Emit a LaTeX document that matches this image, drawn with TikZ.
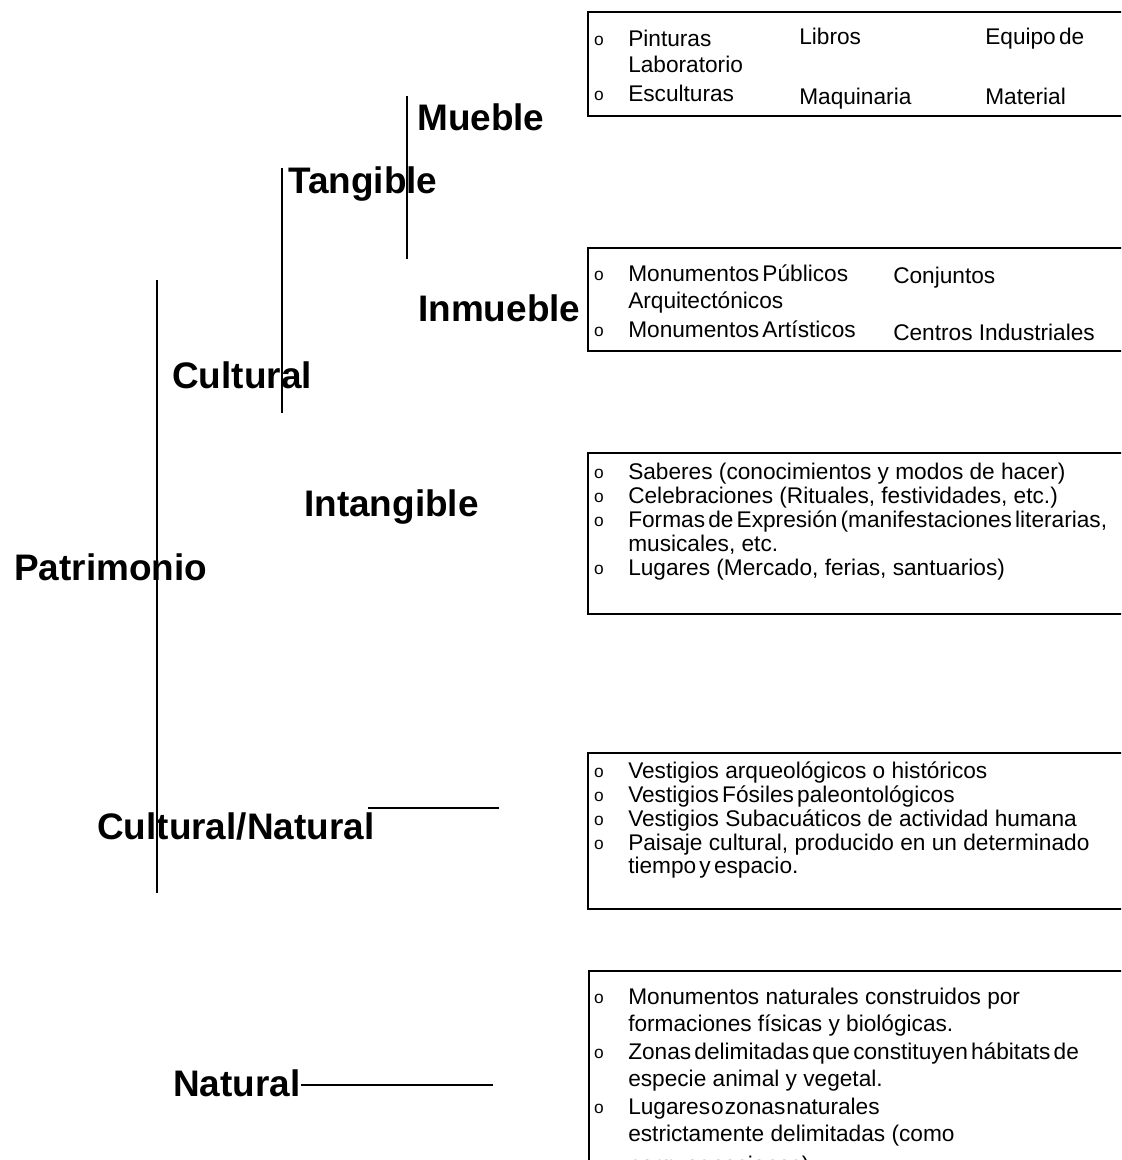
\documentclass[tikz,border=0pt]{standalone}
\usepackage{fontspec}
\setmainfont{Liberation Sans}
\newcommand\tightsp{\spaceskip=2.4pt\relax}
\newcommand\vtightsp{\spaceskip=0.8pt\relax}
\begin{document}
\begin{tikzpicture}[x=0.75pt,y=-0.75pt,
  lbl/.style={anchor=base west,inner sep=0pt,font=\fontsize{27.7}{30}\selectfont\bfseries},
  txt/.style={anchor=base west,inner sep=0pt,font=\fontsize{17}{17}\selectfont},
  tighttxt/.style={anchor=base west,inner sep=0pt,font=\fontsize{17}{17}\selectfont\tightsp},
  vtighttxt/.style={anchor=base west,inner sep=0pt,font=\fontsize{17}{17}\selectfont\vtightsp},
  bul/.style={anchor=base,inner sep=0pt,font=\fontsize{13}{13}\selectfont},
  frame/.style={draw,line width=1.5pt},
  stem/.style={line width=1.1pt},
  arm/.style={line width=1.5pt}]
\useasboundingbox (0,0) rectangle (1121,1160);
\clip (0,0) rectangle (1121,1160);

% category labels
\node[lbl] (mueble) at (417,130) {Mueble};
\node[lbl] (tangible) at (288,193) {Tangible};
\node[lbl] (inmueble) at (418,321) {Inmueble};
\node[lbl] (cultural) at (172,388) {Cultural};
\node[lbl] (intangible) at (304,516) {Intangible};
\node[lbl] (patrimonio) at (14,580) {Patrimonio};
\node[lbl] (culnat) at (97,839) {Cultural/Natural};
\node[lbl] (natural) at (173,1096) {Natural};

% stems
\coordinate (m1) at (407,96);  \coordinate (m2) at (407,259);
\coordinate (t1) at (282,168); \coordinate (t2) at (282,413);
\coordinate (p1) at (157,280); \coordinate (p2) at (157,893);
\coordinate (c1) at (368,808); \coordinate (c2) at (499,808);
\coordinate (n2) at (493,1085);
\draw[stem] (m1) -- (m2);
\draw[stem] (t1) -- (t2);
\draw[stem] (p1) -- (p2);
\draw[arm] (c1) -- (c2);
\draw[arm] (natural.east |- n2) -- (n2);

% boxes
\draw[frame] (1135,12) -- (588,12) -- (588,116) -- (1135,116);
\draw[frame] (1135,248) -- (588,248) -- (588,351) -- (1135,351);
\draw[frame] (1135,453) -- (588,453) -- (588,614) -- (1135,614);
\draw[frame] (1135,753) -- (588,753) -- (588,909) -- (1135,909);
\draw[frame] (1135,971) -- (589,971) -- (589,1200);

% box 1
\node[bul] (b1a) at (599,45) {o};
\node[txt] (pint) at (628,46) {Pinturas};
\node[txt] (libr) at (799,44) {Libros};
\node[tighttxt] (equi) at (985,44) {Equipo de};
\node[txt] (labo) at (628,72) {Laboratorio};
\node[bul] (b1b) at (599,100) {o};
\node[txt] (escu) at (628,101) {Esculturas};
\node[txt] (maqu) at (799,104) {Maquinaria};
\node[txt] (mate) at (985,104) {Material};

% box 2
\node[bul] (b2a) at (599,280) {o};
\node[tighttxt] (monp) at (628,281) {Monumentos Públicos};
\node[txt] (conj) at (893,283) {Conjuntos};
\node[txt] (arqu) at (628,308) {Arquitectónicos};
\node[bul] (b2b) at (599,336) {o};
\node[tighttxt] (mona) at (628,337) {Monumentos Artísticos};
\node[txt] (cent) at (893,340) {Centros Industriales};

% box 3
\node[bul] (b3a) at (599,478) {o};
\node[txt] (sabe) at (628,479) {Saberes (conocimientos y modos de hacer)};
\node[bul] (b3b) at (599,502) {o};
\node[txt] (cele) at (628,503) {Celebraciones (Rituales, festividades, etc.)};
\node[bul] (b3c) at (599,526) {o};
\node[tighttxt] (form) at (628,527) {Formas de Expresión (manifestaciones literarias,};
\node[txt] (musi) at (628,551) {musicales, etc.};
\node[bul] (b3d) at (599,574) {o};
\node[txt] (luga) at (628,575) {Lugares (Mercado, ferias, santuarios)};

% box 4
\node[bul] (b4a) at (599,777) {o};
\node[txt] (vesa) at (628,778) {Vestigios arqueológicos o históricos};
\node[bul] (b4b) at (599,801) {o};
\node[tighttxt] (vesf) at (628,802) {Vestigios Fósiles paleontológicos};
\node[bul] (b4c) at (599,825) {o};
\node[txt] (vess) at (628,826) {Vestigios Subacuáticos de actividad humana};
\node[bul] (b4d) at (599,849) {o};
\node[txt] (pais) at (628,850) {Paisaje cultural, producido en un determinado};
\node[tighttxt] (tiem) at (628,873) {tiempo y espacio.};

% box 5
\node[bul] (b5a) at (599,1003) {o};
\node[txt] (monn) at (628,1004) {Monumentos naturales construidos por};
\node[txt] (forf) at (628,1031.5) {formaciones físicas y biológicas.};
\node[bul] (b5b) at (599,1058) {o};
\node[tighttxt] (zona) at (628,1059) {Zonas delimitadas que constituyen hábitats de};
\node[txt] (espe) at (628,1086.5) {especie animal y vegetal.};
\node[bul] (b5c) at (599,1113) {o};
\node[vtighttxt] (lugn) at (628,1114) {Lugares o zonas naturales};
\node[txt] (estr) at (628,1141.5) {estrictamente delimitadas (como};
\node[vtighttxt] (parq) at (628,1172) {parques naciones)};
\end{tikzpicture}
\end{document}
